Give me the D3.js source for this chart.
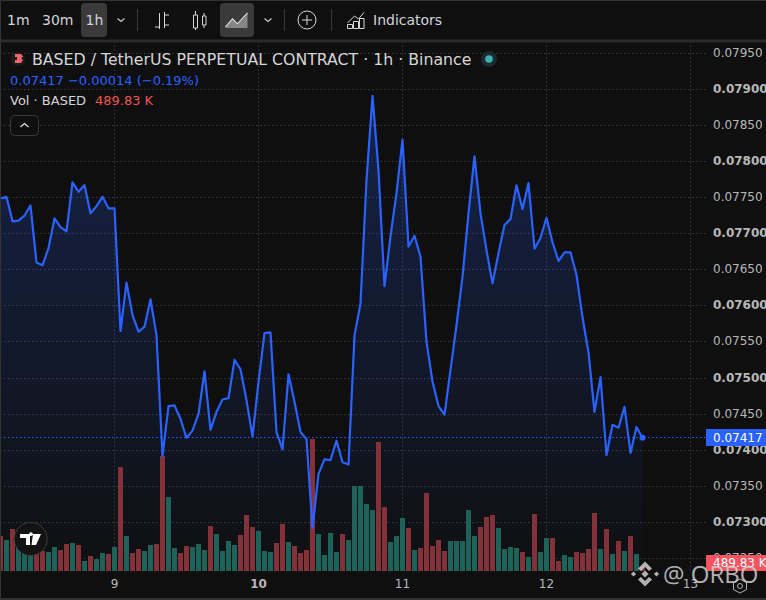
<!DOCTYPE html>
<html>
<head lang="en">
	<meta charset="UTF-8">
	<title>BASED / TetherUS</title>
	<script src="https://cdn.jsdelivr.net/npm/d3@7"></script>
	<style>
		html, body { margin: 0; padding: 0; background: #0f0f0f; overflow: hidden; }
		svg { display: block; }
		text { font-family: "DejaVu Sans", sans-serif; }
	</style>
</head>
<body>

<script>

	// hours counted from the start of day 9
	var firstHour = -19;

	var prices = [
		0.07749, 0.07751, 0.07717, 0.07718, 0.07725, 0.07739, 0.07660, 0.07656, 0.07680, 0.07721,
		0.07709, 0.07703, 0.07771, 0.07758, 0.07767, 0.07728, 0.07738, 0.07751, 0.07735,
		0.07735, 0.07565, 0.07632, 0.07587, 0.07564, 0.07571, 0.07609, 0.07559, 0.07392, 0.07461,
		0.07462, 0.07443, 0.07417, 0.07427, 0.07450, 0.07509, 0.07428, 0.07453, 0.07470, 0.07472,
		0.07525, 0.07512, 0.07469, 0.07419, 0.07494, 0.07562, 0.07563, 0.07425, 0.07401, 0.07505,
		0.07467, 0.07425, 0.07415, 0.07292, 0.07367, 0.07387, 0.07386, 0.07413, 0.07383, 0.07380,
		0.07559, 0.07603, 0.07774, 0.07891, 0.07788, 0.07627, 0.07696, 0.07756, 0.07830, 0.07682,
		0.07697, 0.07668, 0.07550, 0.07495, 0.07461, 0.07449, 0.07511, 0.07573, 0.07640, 0.07728,
		0.07807, 0.07728, 0.07677, 0.07631, 0.07673, 0.07712, 0.07720, 0.07767, 0.07734, 0.07770,
		0.07679, 0.07694, 0.07722, 0.07688, 0.07662, 0.07674, 0.07674, 0.07643, 0.07584, 0.07535,
		0.07453, 0.07501, 0.07393, 0.07435, 0.07431, 0.07460, 0.07396, 0.07432, 0.07417
	];

	// volume in thousands
	var volumes = [
		4025, 3565, 4830, 2760, 2070, 2530, 2415, 2300, 2185, 2760,
		2415, 3105, 3220, 2990, 1150, 1725, 1380, 2070, 1955,
		2760, 11960, 4025, 2070, 2530, 2300, 2990, 3105, 13225, 8510,
		2645, 2070, 2875, 2760, 3105, 2415, 5175, 4255, 2300, 3450,
		2990, 4140, 6440, 5060, 4600, 2300, 2185, 3220, 5405, 3335,
		2875, 2070, 2415, 15180, 4255, 1840, 4370, 2185, 4255, 3565,
		9775, 9775, 7705, 7015, 14835, 7360, 3335, 4025, 6095, 4945,
		2415, 2645, 8970, 2875, 3565, 2300, 3450, 3450, 3450, 7015,
		4025, 5060, 6210, 6440, 4945, 2530, 2760, 2645, 2185, 1610,
		6555, 2185, 3795, 3795, 1150, 1840, 1610, 2185, 2070, 2530,
		6670, 2530, 4830, 1955, 3450, 2300, 4025, 1955, 489.83
	];

	// u = rising hour, d = falling hour
	var directions = [
		"d","u","d","u","u","u","d","d","u","u","d","d","u","d","u","d","u","u","d",
		"u","d","u","d","d","u","u","d","d","u","u","d","d","u","u","u","d","u","u","u",
		"u","d","d","d","u","u","u","d","d","u","d","d","d","d","u","u","u","u","d","u",
		"u","u","u","u","d","d","u","u","u","d","u","d","d","d","d","d","u","u","u","u",
		"u","d","d","d","u","u","u","u","d","u","d","u","u","d","d","u","u","d","d","d",
		"d","u","d","u","d","u","d","u","d"
	];

	var priceTicks = d3.range(14, -1, -1).map(function (i) { return 0.0725 + i * 0.0005; });
	var dayTicks = [0, 24, 48, 72, 96];
	var dayLabels = ["9", "10", "11", "12", "13"];

	var lastPrice = prices[prices.length - 1];
	var lastVolumeLabel = "489.83 K";

	var blue = "#2962ff";
	var upBar = "#1d6359";
	var downBar = "#83323a";
	var gridColor = "#3a3a3a";
	var textColor = "#b8b8b8";

	var W = 766, H = 600, paneTop = 42, paneRight = 706, paneBottom = 571;

	var svg = d3.select("body").append("svg").attr("width", W).attr("height", H);

	var x = d3.scaleLinear().domain([firstHour, 96]).range([0, 690]);
	var y = d3.scaleLinear().domain([0.0725, 0.0795]).range([558.3, 53.2]);
	var yVol = d3.scaleLinear().domain([0, 15180]).range([paneBottom, paneBottom - 132]);

	var hours = prices.map(function (p, i) { return firstHour + i; });

	// tick rows sit on whole pixels
	function tickRow(d) {
		return Math.floor(y(d) + 0.15) + 0.5;
	}

	var defs = svg.append("defs");
	defs.append("clipPath").attr("id", "pane").append("rect")
		.attr("x", 0).attr("y", paneTop).attr("width", paneRight).attr("height", paneBottom - paneTop);
	var grad = defs.append("linearGradient").attr("id", "areaFill")
		.attr("gradientUnits", "userSpaceOnUse")
		.attr("x1", 0).attr("x2", 0).attr("y1", y(d3.max(prices))).attr("y2", paneBottom);
	grad.append("stop").attr("offset", 0).attr("stop-color", blue).attr("stop-opacity", 0.24);
	grad.append("stop").attr("offset", 1).attr("stop-color", blue).attr("stop-opacity", 0.01);

	svg.append("rect").attr("width", W).attr("height", H).attr("fill", "#0f0f0f");

	var pane = svg.append("g").attr("clip-path", "url(#pane)");

	// grid comes from the axes
	var gridY = pane.append("g").call(d3.axisRight(y).tickValues(priceTicks).tickSize(paneRight).tickFormat(""));
	gridY.selectAll(".tick").attr("transform", function (d) { return "translate(0," + tickRow(d) + ")"; });
	var gridX = pane.append("g").attr("transform", "translate(0," + paneBottom + ")")
		.call(d3.axisBottom(x).tickValues(dayTicks).tickSize(-(paneBottom - paneTop)).tickFormat(""));
	[gridY, gridX].forEach(function (g) {
		g.select(".domain").remove();
		g.selectAll("line").attr("stroke", gridColor).attr("stroke-dasharray", "1.5 2.5");
	});

	pane.append("path").datum(prices)
		.attr("fill", "url(#areaFill)")
		.attr("d", d3.area()
			.x(function (d, i) { return x(hours[i]) + 0.5; })
			.y0(paneBottom)
			.y1(function (d) { return y(d); }));

	pane.selectAll("rect.vol").data(volumes).enter().append("rect")
		.attr("class", "vol")
		.attr("x", function (d, i) { return x(hours[i]) - 2; })
		.attr("width", 5)
		.attr("y", function (d) { return yVol(d); })
		.attr("height", function (d) { return paneBottom - yVol(d); })
		.attr("fill", function (d, i) { return directions[i] == "u" ? upBar : downBar; });

	pane.append("line")
		.attr("x1", 0).attr("x2", paneRight)
		.attr("y1", Math.floor(y(lastPrice)) + 0.5).attr("y2", Math.floor(y(lastPrice)) + 0.5)
		.attr("stroke", blue).attr("stroke-dasharray", "1.5 2.5");

	pane.append("path").datum(prices)
		.attr("fill", "none")
		.attr("stroke", blue)
		.attr("stroke-width", 2.2)
		.attr("stroke-linejoin", "round")
		.attr("d", d3.line()
			.x(function (d, i) { return x(hours[i]) + 0.5; })
			.y(function (d) { return y(d); }));

	svg.append("circle")
		.attr("cx", x(hours[hours.length - 1]) + 0.5).attr("cy", y(lastPrice)).attr("r", 3).attr("fill", blue);

	// price axis
	var priceAxis = svg.append("g").attr("transform", "translate(" + 713 + ",0)")
		.call(d3.axisRight(y).tickValues(priceTicks).tickSize(0).tickPadding(0).tickFormat(d3.format(".5f")));
	priceAxis.select(".domain").remove();
	priceAxis.selectAll(".tick").attr("transform", function (d) { return "translate(0," + tickRow(d) + ")"; });
	priceAxis.selectAll("text")
		.attr("font-size", 12)
		.attr("fill", textColor)
		.style("font-family", '"DejaVu Sans", sans-serif')
		.attr("font-weight", function (d) { return Math.round(d * 100000) % 100 == 0 ? "bold" : "normal"; });

	// time axis
	var timeAxis = svg.append("g").attr("transform", "translate(0," + paneBottom + ")")
		.call(d3.axisBottom(x).tickValues(dayTicks).tickSize(0).tickPadding(8)
			.tickFormat(function (d, i) { return dayLabels[i]; }));
	timeAxis.select(".domain").remove();
	timeAxis.selectAll("text")
		.attr("font-size", 12)
		.attr("fill", textColor)
		.style("font-family", '"DejaVu Sans", sans-serif')
		.attr("font-weight", function (d) { return d == 24 ? "bold" : "normal"; });

	// last value labels
	function valueLabel(yMid, h, fill, txt) {
		svg.append("rect").attr("x", paneRight).attr("y", yMid - h / 2).attr("width", W - paneRight).attr("height", h).attr("fill", fill);
		svg.append("text").attr("x", 713).attr("y", yMid + 4.4).attr("font-size", 12).attr("fill", "#fff").text(txt);
	}
	valueLabel(437.5, 17, blue, d3.format(".5f")(lastPrice));
	valueLabel(563, 16, "#f7525f", lastVolumeLabel);

	// toolbar
	var bar = svg.append("g");
	bar.append("rect").attr("x", 0).attr("y", 39.5).attr("width", W).attr("height", 3).attr("fill", "#2b2b2b");
	[[81, 26], [220, 34]].forEach(function (r) {
		bar.append("rect").attr("x", r[0]).attr("y", 3).attr("width", r[1]).attr("height", 34).attr("rx", 4).attr("fill", "#3a3a3a");
	});
	[["1m", 7], ["30m", 42], ["1h", 85.5], ["Indicators", 373]].forEach(function (t) {
		bar.append("text").attr("x", t[1]).attr("y", 25).attr("font-size", 14).attr("fill", "#d1d4dc").text(t[0]);
	});
	[137.5, 284.5, 331.5].forEach(function (sx) {
		bar.append("line").attr("x1", sx).attr("x2", sx).attr("y1", 9).attr("y2", 31).attr("stroke", "#3a3a3a");
	});

	var iconStroke = { fill: "none", stroke: "#d8d8d8", "stroke-width": 1 };
	function icon(d, attrs) {
		var p = bar.append("path").attr("d", d);
		var a = attrs || iconStroke;
		Object.keys(a).forEach(function (k) { p.attr(k, a[k]); });
		return p;
	}
	// chevrons
	icon("M117.5 18.5l3.5 3 3.5-3M264.5 18.5l3.5 3 3.5-3", { fill: "none", stroke: "#c8c8c8", "stroke-width": 1.2 });
	// bars icon
	icon("M159.5 13v16M155 27h4.5M164.5 12v16M164.5 15h4.5M164.5 25h4.5M159.5 17h-.5");
	// candle icon
	icon("M193.5 15h4v13h-4zM195.5 11v4M195.5 28v2M202.5 16h3.5v9h-3.5zM204 13v3M204 25v3");
	// area icon
	icon("M225.5 27l7-8 5 5 10-11", { fill: "none", stroke: "#e0e0e0", "stroke-width": 1.2 });
	icon("M225.5 28l7-8 5 5 10-11v14h-22z", { fill: "#9a9a9a", stroke: "none", opacity: 0.8 });
	// plus
	bar.append("circle").attr("cx", 307).attr("cy", 20).attr("r", 9).attr("fill", "none").attr("stroke", "#d8d8d8").attr("stroke-width", 1);
	icon("M307 15v10M302 20h10");
	// indicators icon
	icon("M347.5 23l7-7 4 3 5.5-6.5");
	icon("M347.5 24.5h5v4h-5zM353.5 21.5h5v7h-5zM359.5 18.5h4.5v10h-4.5z");

	// legend
	var legend = svg.append("g");
	legend.append("circle").attr("cx", 18).attr("cy", 59).attr("r", 7).attr("fill", "#1d1d1f");
	legend.append("path").attr("d", "M15 54h6l2 2.5-2 2 2 1.5-2 3h-6v-3h2v-3h-2z").attr("fill", "#f0656a");
	legend.append("text").attr("x", 32).attr("y", 65).attr("font-size", 15.75).attr("fill", "#d6d6d6")
		.text("BASED / TetherUS PERPETUAL CONTRACT · 1h · Binance");
	legend.append("circle").attr("cx", 489).attr("cy", 59).attr("r", 8).attr("fill", "#1b2a30");
	legend.append("circle").attr("cx", 489).attr("cy", 59).attr("r", 3.8).attr("fill", "#42b0b0");
	legend.append("text").attr("x", 10).attr("y", 84.5).attr("font-size", 13).attr("fill", blue)
		.text("0.07417  −0.00014 (−0.19%)");
	legend.append("text").attr("x", 10).attr("y", 104.5).attr("font-size", 13).attr("fill", "#d6d6d6").text("Vol · BASED");
	legend.append("text").attr("x", 95).attr("y", 104.5).attr("font-size", 13).attr("fill", "#f05350").text(lastVolumeLabel);
	legend.append("rect").attr("x", 10.5).attr("y", 115.5).attr("width", 28).attr("height", 20).attr("rx", 4)
		.attr("fill", "#0f0f0f").attr("stroke", "#3a3a3a");
	legend.append("path").attr("d", "M20.5 127l4-3.5 4 3.5").attr("fill", "none").attr("stroke", "#e0e0e0").attr("stroke-width", 1.3);

	// TradingView badge
	svg.append("circle").attr("cx", 30.7).attr("cy", 539).attr("r", 16.5).attr("fill", "#131313").attr("stroke", "#3d3d3d").attr("stroke-width", 1);
	svg.append("path").attr("d", "M20 534h10v11h-4v-7h-6zM33 534h8l-5 11h-4.5zM31 536a1.9 1.9 0 1 1 .01 0z").attr("fill", "#fff");

	// gear
	svg.append("path")
		.attr("d", "M740 579l6.5 3.5v7l-6.5 3.5-6.5-3.5v-7z")
		.attr("fill", "none").attr("stroke", "#b0b0b0");
	svg.append("circle").attr("cx", 740).attr("cy", 586).attr("r", 2.5).attr("fill", "none").attr("stroke", "#b0b0b0");

	// watermark
	var mark = svg.append("g").attr("opacity", 0.85);
	var markColor = "#cfcfcf";
	[[645, 574, 3.6], [633.5, 574, 2.6], [656.5, 574, 2.6]].forEach(function (m) {
		mark.append("path")
			.attr("d", "M" + (m[0] - m[2]) + " " + m[1] + "L" + m[0] + " " + (m[1] - m[2]) + "L" + (m[0] + m[2]) + " " + m[1] + "L" + m[0] + " " + (m[1] + m[2]) + "z")
			.attr("fill", markColor);
	});
	mark.append("path").attr("d", "M638 568.5l7-7 7 7-3 2.5-4-4-4 4zM638 579.5l7 7 7-7-3-2.5-4 4-4-4z").attr("fill", markColor);
	mark.append("text").attr("x", 663).attr("y", 583).attr("font-size", 24).attr("fill", markColor)
		.style("font-family", '"Open Sans", sans-serif').text("@ ORBO");

	// outer edges
	svg.append("rect").attr("x", 0).attr("y", 0).attr("width", 1).attr("height", H).attr("fill", "#333");
	svg.append("rect").attr("x", 0).attr("y", 0).attr("width", W).attr("height", 1).attr("fill", "#333");
	svg.append("rect").attr("x", 0).attr("y", 598).attr("width", W).attr("height", 2).attr("fill", "#333");

</script>


</body>
</html>
